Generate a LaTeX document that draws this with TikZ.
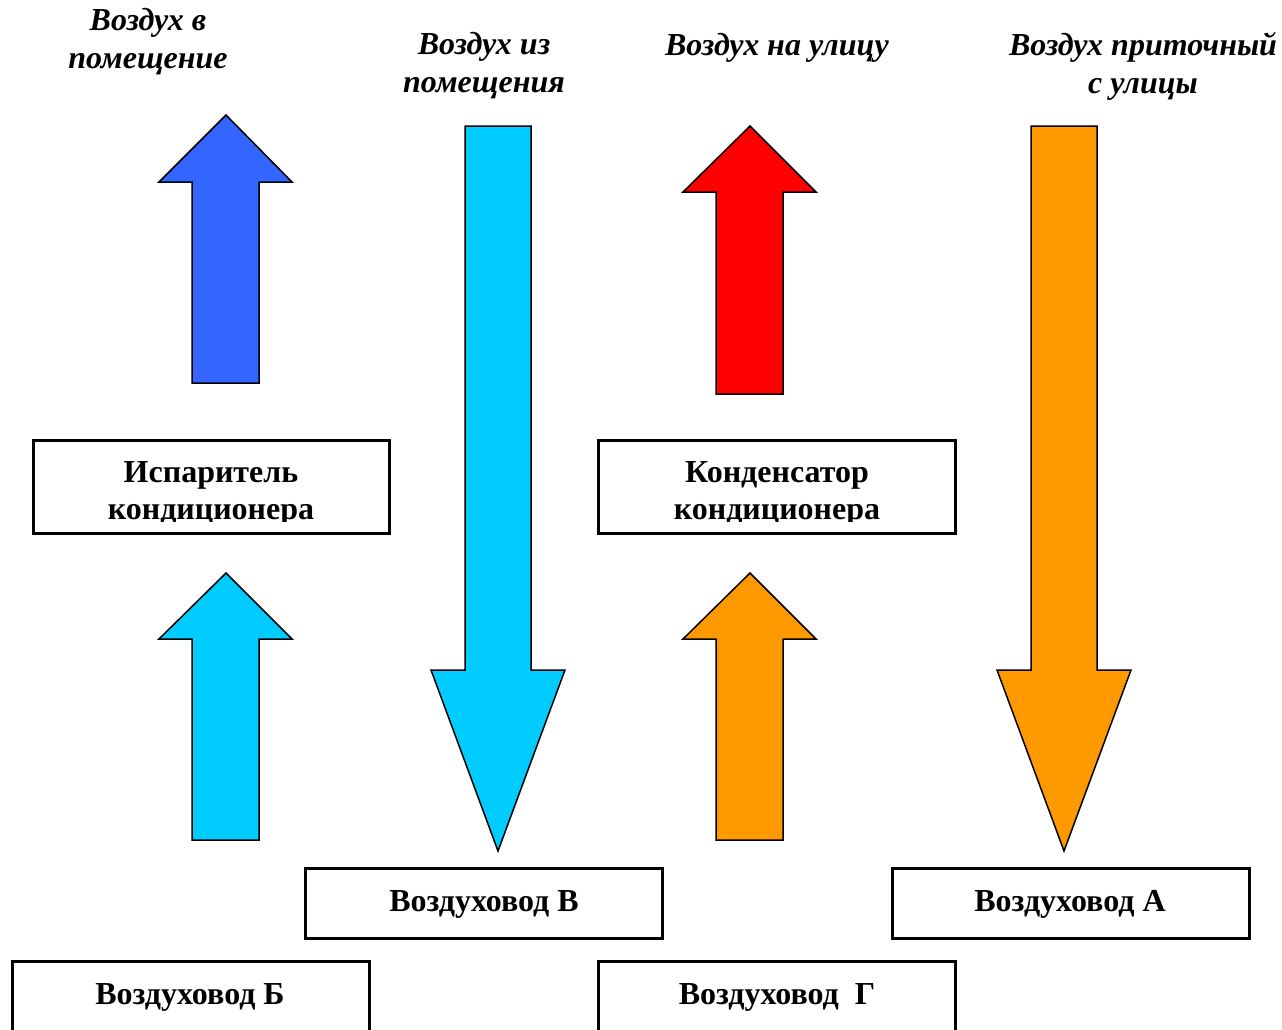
\documentclass[tikz,border=0pt]{standalone}
\usepackage{fontspec}
\setmainfont{Liberation Serif}
\definecolor{cblue}{HTML}{3366FF}
\definecolor{ccyan}{HTML}{00CCFF}
\definecolor{cred}{HTML}{FF0000}
\definecolor{corange}{HTML}{FF9900}
\begin{document}
\begin{tikzpicture}[x=1pt,y=-1pt,
  box/.style={draw=black,line width=3pt,fill=white},
  arr/.style={draw=black,line width=1.5pt,line join=miter},
  boxtext/.style={font=\fontsize{32}{37}\selectfont\bfseries,align=center,inner sep=0pt},
  title/.style={font=\fontsize{32}{38}\selectfont\bfseries\itshape,align=center,inner sep=0pt}]
\useasboundingbox (0,0) rectangle (1282,1029);
\clip (0,0) rectangle (1282,1029);
% titles
\node[title] (t1) at (148,42) {Воздух в\\помещение};
\node[title] (t2) at (484,66) {Воздух из\\помещения};
\node[title] (t3) at (777,48) {Воздух на улицу};
\node[title] (t4) at (1143,66) {Воздух приточный\\с улицы};
% arrows
\draw[arr,fill=cblue] (226,115) -- (292,182) -- (259,182) -- (259,383) -- (192,383) -- (192,182) -- (159,182) -- cycle;
\draw[arr,fill=ccyan] (465,126) -- (531,126) -- (531,670) -- (565,670) -- (498,851) -- (431,670) -- (465,670) -- cycle;
\draw[arr,fill=cred] (750,126) -- (816,192) -- (783,192) -- (783,394) -- (716,394) -- (716,192) -- (683,192) -- cycle;
\draw[arr,fill=corange] (1031,126) -- (1097,126) -- (1097,670) -- (1131,670) -- (1064,851) -- (997,670) -- (1031,670) -- cycle;
\draw[arr,fill=ccyan] (226,573) -- (292,639) -- (259,639) -- (259,840) -- (192,840) -- (192,639) -- (159,639) -- cycle;
\draw[arr,fill=corange] (750,573) -- (816,639) -- (783,639) -- (783,840) -- (716,840) -- (716,639) -- (683,639) -- cycle;
% boxes
\draw[box] (33,440) rectangle (389,533);
\begin{scope}
\clip (33,440) rectangle (389,521);
\node[boxtext] (isp) at (211,494) {Испаритель\\кондиционера};
\end{scope}
\draw[box] (598,440) rectangle (955,533);
\begin{scope}
\clip (598,440) rectangle (955,521);
\node[boxtext] (kond) at (777,494) {Конденсатор\\кондиционера};
\end{scope}
\draw[box] (305,868) rectangle (662,938);
\node[boxtext] (vv) at (484,904) {Воздуховод В};
\draw[box] (892,868) rectangle (1249,938);
\node[boxtext] (va) at (1070,904) {Воздуховод А};
\draw[box] (12,961) rectangle (369,1040);
\node[boxtext] (vb) at (190,997) {Воздуховод Б};
\draw[box] (598,961) rectangle (955,1040);
\node[boxtext] (vg) at (777,997) {Воздуховод~~Г};
\end{tikzpicture}
\end{document}
